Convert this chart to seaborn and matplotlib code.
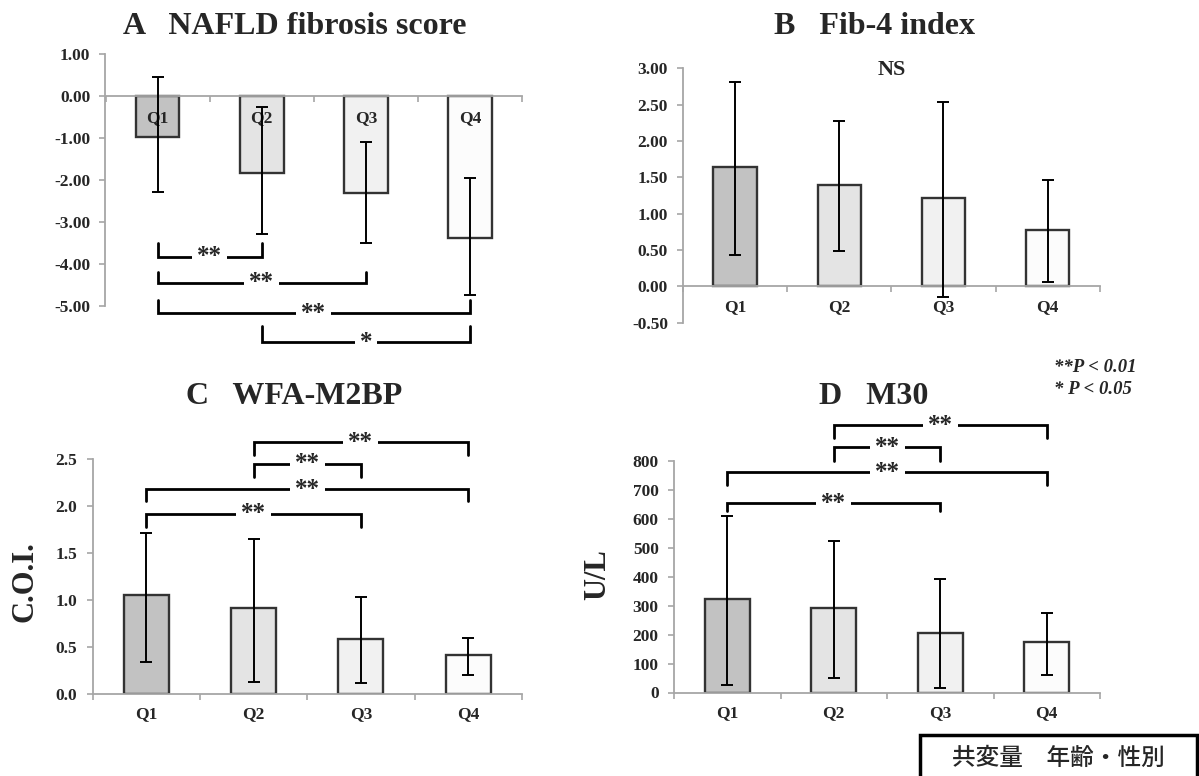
import numpy as np
import matplotlib
matplotlib.use("Agg")
import matplotlib.pyplot as plt
import matplotlib.patches as mpatches
from matplotlib.ticker import FixedLocator, StrMethodFormatter
import seaborn as sns

sns.set_style("white")
plt.rcParams['font.family'] = ['Liberation Serif', 'Noto Sans CJK JP']
plt.rcParams['font.weight'] = 'bold'
plt.rcParams['axes.unicode_minus'] = False

W, H = 1199, 776

quartiles = ["Q1", "Q2", "Q3", "Q4"]
bar_colors = ["#c2c2c2", "#e4e4e4", "#f1f1f1", "#fcfcfc"]

# A NAFLD fibrosis score
nfs_mean = [-0.97, -1.83, -2.32, -3.39]
nfs_hi = [0.46, -0.25, -1.10, -1.96]
nfs_lo = [-2.28, -3.29, -3.49, -4.74]
nfs_ticks = [1, 0, -1, -2, -3, -4, -5]
# (left, right, line level, arm end, label)
nfs_brackets = [(0, 1, -3.83, -3.50, "**"), (0, 2, -4.45, -4.19, "**"),
                (0, 3, -5.17, -4.86, "**"), (1, 3, -5.86, -5.48, "*")]

# B Fib-4 index
fib4_mean = [1.64, 1.395, 1.22, 0.78]
fib4_hi = [2.81, 2.27, 2.54, 1.47]
fib4_lo = [0.43, 0.48, -0.14, 0.065]
fib4_ticks = [-0.5, 0, 0.5, 1.0, 1.5, 2.0, 2.5, 3.0]

# C WFA-M2BP
wfa_mean = [1.05, 0.91, 0.59, 0.42]
wfa_hi = [1.71, 1.65, 1.03, 0.60]
wfa_lo = [0.34, 0.13, 0.12, 0.20]
wfa_ticks = [0, 0.5, 1.0, 1.5, 2.0, 2.5]
wfa_brackets = [(1, 3, 2.68, 2.54, "**"), (1, 2, 2.45, 2.31, "**"),
                (0, 3, 2.18, 2.05, "**"), (0, 2, 1.92, 1.78, "**")]

# D M30
m30_mean = [322, 291, 204, 173]
m30_hi = [611, 524, 391, 276]
m30_lo = [26, 49, 15, 60]
m30_ticks = [0, 100, 200, 300, 400, 500, 600, 700, 800]
m30_brackets = [(1, 3, 924, 878, "**"), (1, 2, 847, 801, "**"),
                (0, 3, 761, 717, "**"), (0, 2, 654, 627, "**")]

AXIS_GRAY = "#a6a6a6"


def px_axes(fig, left, top, right, bottom):
    return fig.add_axes([left / W, 1 - bottom / H, (right - left) / W, (bottom - top) / H])


def draw_panel(ax, mean, lo, hi, ylim, ticks, fmt, show_labels=True):
    sns.barplot(x=quartiles, y=mean, hue=quartiles, palette=bar_colors, legend=False,
                width=0.42, edgecolor="#333333", linewidth=1.7, errorbar=None, ax=ax)
    mean = np.array(mean)
    yerr = [mean - np.array(lo), np.array(hi) - mean]
    ax.errorbar(np.arange(len(quartiles)), mean, yerr=yerr, fmt="none", ecolor="black",
                elinewidth=1.4, capsize=4.5, capthick=1.4, zorder=4)
    ax.set_xlim(-0.5, len(quartiles) - 0.5)
    ax.set_ylim(*ylim)
    ax.set_xlabel("")
    ax.set_ylabel("")
    for side in ["top", "right"]:
        ax.spines[side].set_visible(False)
    for side in ["left", "bottom"]:
        ax.spines[side].set_color(AXIS_GRAY)
        ax.spines[side].set_linewidth(1.3)
    ax.spines["bottom"].set_position(("data", 0))
    ax.spines["left"].set_bounds(min(ticks), max(ticks))
    ax.yaxis.set_major_locator(FixedLocator(ticks))
    ax.yaxis.set_major_formatter(StrMethodFormatter(fmt))
    ax.tick_params(axis="y", direction="out", length=4, width=1.2, color=AXIS_GRAY,
                   pad=7, labelsize=12.5, left=True)
    ax.xaxis.set_minor_locator(FixedLocator(np.arange(len(quartiles) + 1) - 0.5))
    ax.tick_params(axis="x", which="minor", direction="out", length=4, width=1.2,
                   color=AXIS_GRAY, bottom=True)
    ax.tick_params(axis="x", which="major", length=0, pad=9, labelsize=12.5)
    if not show_labels:
        ax.set_xticklabels([])
    for lab in ax.get_xticklabels() + ax.get_yticklabels():
        lab.set_fontweight("bold")


def draw_brackets(ax, brackets):
    for x1, x2, y, arm, label in brackets:
        ax.plot([x1, x1, x2, x2], [arm, y, y, arm], color="black", lw=2.0,
                clip_on=False, zorder=5, solid_joinstyle="miter")
        ax.text((x1 + x2) / 2, y, label, ha="center", va="center", fontsize=18,
                fontweight="bold", zorder=6, clip_on=False,
                bbox=dict(boxstyle="square,pad=0.2", fc="white", ec="none"))


fig = plt.figure(figsize=(W / 100, H / 100), dpi=100)

# A
ax_a = px_axes(fig, 105.5, 51.9, 522, 352.2)
draw_panel(ax_a, nfs_mean, nfs_lo, nfs_hi, (-6.1, 1.05), nfs_ticks, "{x:.2f}", show_labels=False)
for i, q in enumerate(quartiles):
    ax_a.text(i, -0.52, q, ha="center", va="center", fontsize=12.5, fontweight="bold", zorder=3)
draw_brackets(ax_a, nfs_brackets)

# B
ax_b = px_axes(fig, 683.3, 68.3, 1099.6, 322.7)
draw_panel(ax_b, fib4_mean, fib4_lo, fib4_hi, (-0.5, 3.0), fib4_ticks, "{x:.2f}")
ax_b.text(1.5, 2.98, "NS", ha="center", va="center", fontsize=16, fontweight="bold")

# C
ax_c = px_axes(fig, 92.5, 426.1, 522, 694)
draw_panel(ax_c, wfa_mean, wfa_lo, wfa_hi, (0, 2.85), wfa_ticks, "{x:.1f}")
draw_brackets(ax_c, wfa_brackets)

# D
ax_d = px_axes(fig, 674, 414.6, 1100, 692.5)
draw_panel(ax_d, m30_mean, m30_lo, m30_hi, (0, 960), m30_ticks, "{x:.0f}")
draw_brackets(ax_d, m30_brackets)


def ftext(x, y, s, **kw):
    fig.text(x / W, 1 - y / H, s, **kw)


ftext(294.6, 26, "A   NAFLD fibrosis score", ha="center", va="center", fontsize=23, fontweight="bold")
ftext(875, 26, "B   Fib-4 index", ha="center", va="center", fontsize=23, fontweight="bold")
ftext(294, 397, "C   WFA-M2BP", ha="center", va="center", fontsize=23, fontweight="bold")
ftext(874, 396, "D   M30", ha="center", va="center", fontsize=23, fontweight="bold")
ftext(25, 582, "C.O.I.", ha="center", va="center", rotation=90, fontsize=22, fontweight="bold")
ftext(598, 575, "U/L", ha="center", va="center", rotation=90, fontsize=22, fontweight="bold")
ftext(1054, 367, "**P < 0.01", ha="left", va="center", fontsize=13.5, fontweight="bold", style="italic")
ftext(1054, 389, "* P < 0.05", ha="left", va="center", fontsize=13.5, fontweight="bold", style="italic")

# covariate box
box = mpatches.Rectangle((920 / W, 1 - 790 / H), 277 / W, 55 / H, transform=fig.transFigure,
                         fill=False, ec="black", lw=2.5, clip_on=False)
fig.patches.append(box)
ftext(1058, 758, "共変量　年齢・性別", ha="center", va="center", fontsize=17,
      fontweight="medium", family=["Noto Sans CJK JP", "DejaVu Sans"])

fig.savefig("out.png", dpi=100)
